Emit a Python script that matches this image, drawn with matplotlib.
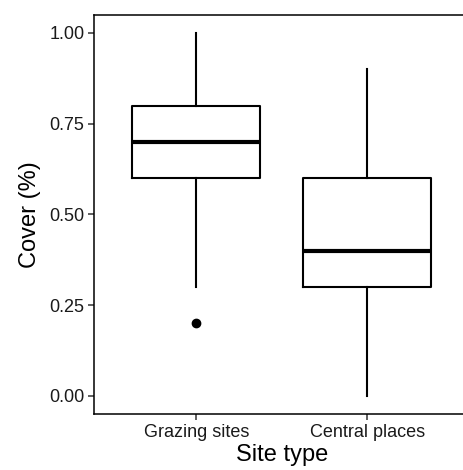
import matplotlib
matplotlib.use("Agg")
import matplotlib.pyplot as plt

categories = ["Grazing sites", "Central places"]
whisker_low = [0.30, 0.00]
q1 = [0.60, 0.30]
median = [0.70, 0.40]
q3 = [0.80, 0.60]
whisker_high = [1.00, 0.90]
outliers = [[0.20], []]
y_ticks = [0.00, 0.25, 0.50, 0.75, 1.00]
y_tick_labels = ["0.00", "0.25", "0.50", "0.75", "1.00"]

plt.rcParams['font.family'] = ['Liberation Sans', 'DejaVu Sans']

W, H = 464, 470
fig = plt.figure(figsize=(W / 100, H / 100), dpi=100)
left, right, top, bottom = 94, 469.6, 14.85, 414
ax = fig.add_axes([left / W, 1 - bottom / H, (right - left) / W, (bottom - top) / H])

stats = []
for i, c in enumerate(categories):
    stats.append(dict(label=c, whislo=whisker_low[i], q1=q1[i], med=median[i],
                      q3=q3[i], whishi=whisker_high[i], fliers=outliers[i]))

ax.bxp(stats, positions=[1, 2], widths=0.75, showcaps=False,
       boxprops=dict(color="black", linewidth=1.5),
       whiskerprops=dict(color="black", linewidth=1.5),
       medianprops=dict(color="black", linewidth=3),
       flierprops=dict(marker="o", markerfacecolor="black", markeredgecolor="black",
                       markersize=6))

ax.set_xlim(0.4, 2.6)
ax.set_ylim(-0.05, 1.05)
ax.set_yticks(y_ticks)
ax.set_yticklabels(y_tick_labels)
ax.set_xticks([1, 2])
ax.set_xticklabels(categories)

for s in ["left", "bottom", "top"]:
    ax.spines[s].set_linewidth(1.1)
    ax.spines[s].set_color("black")
ax.spines["right"].set_visible(False)

ax.tick_params(axis="both", length=4, width=1.1, color="#333333",
               labelsize=13, labelcolor="#1a1a1a", pad=3)
ax.set_xlabel("Site type", fontsize=17, labelpad=2)
ax.set_ylabel("Cover (%)", fontsize=17, labelpad=6)

fig.savefig("out.png", dpi=100)
